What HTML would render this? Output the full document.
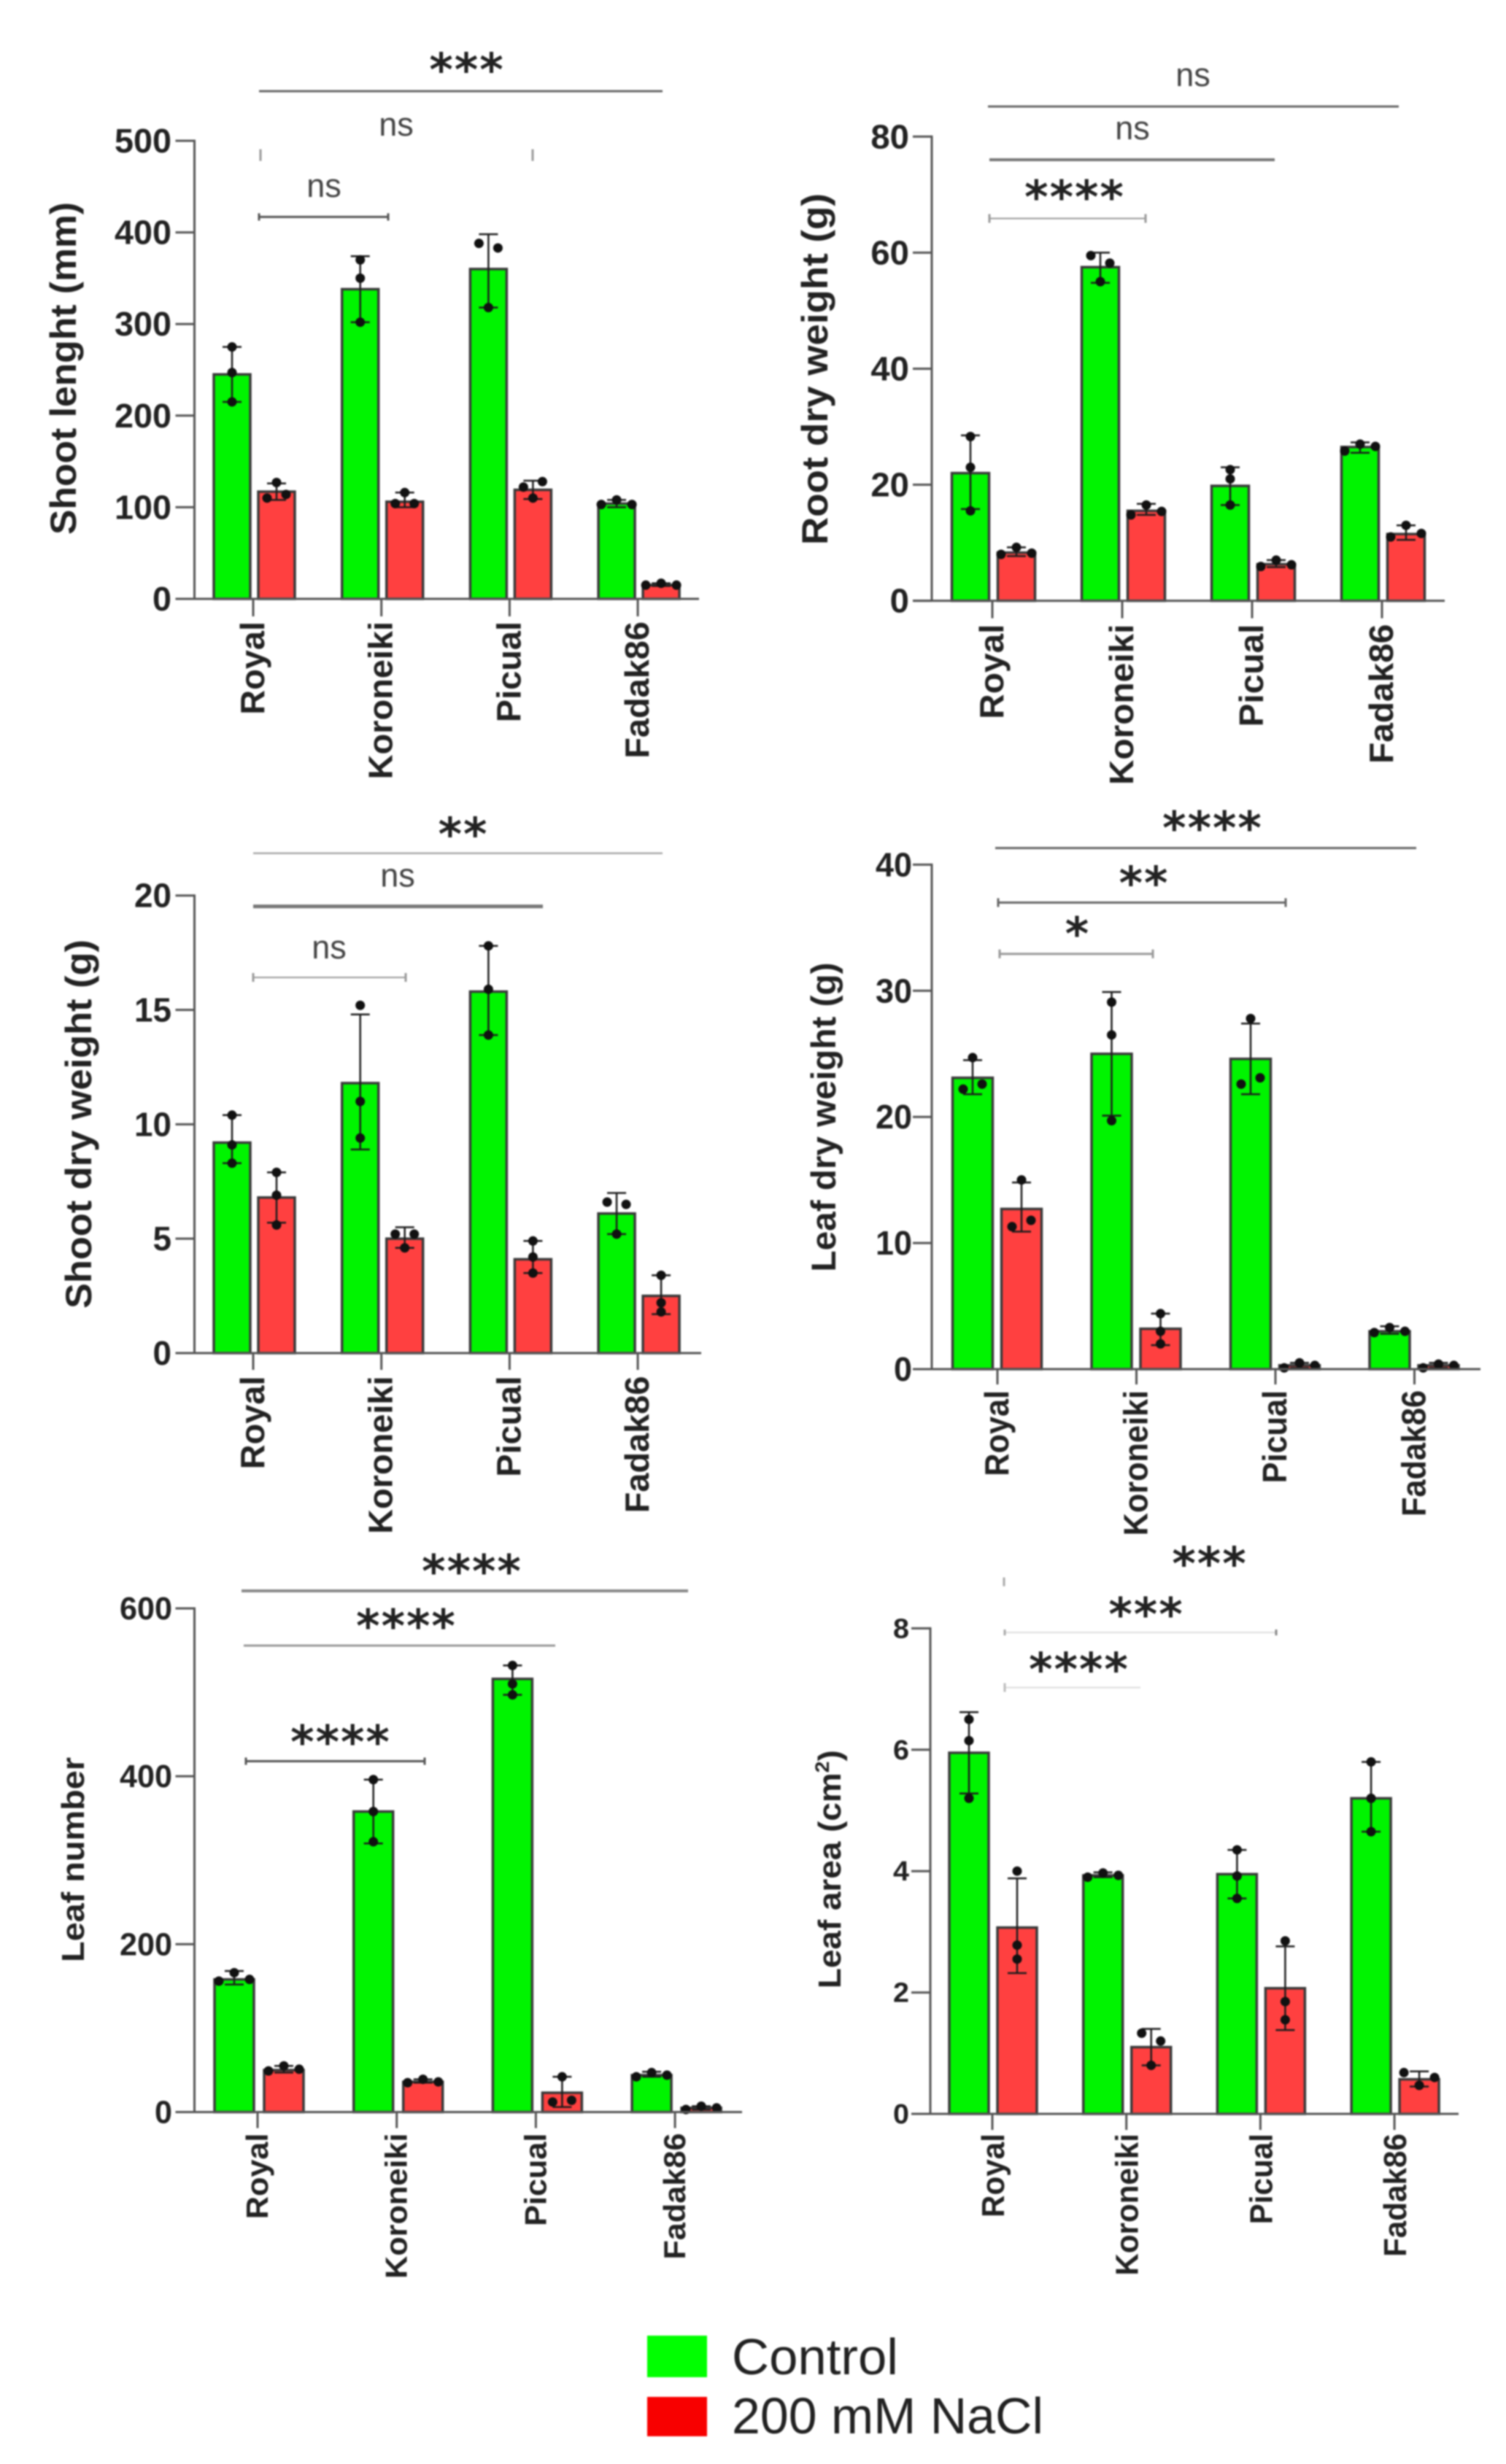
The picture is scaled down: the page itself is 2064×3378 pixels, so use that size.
<!DOCTYPE html>
<html lang="en">
<head>
<meta charset="utf-8">
<title>Olive cultivars under salt stress</title>
<style>
html,body{margin:0;padding:0;background:#fff;}
#figure{display:block;width:2064px;height:3378px;filter:blur(1px);font-family:"Liberation Sans",Arial,sans-serif;}
</style>
</head>
<body>
<svg id="figure" xmlns="http://www.w3.org/2000/svg" width="2064" height="3378" viewBox="0 0 2064 3378">
  <rect x="0" y="0" width="2064" height="3378" fill="#fff"/>
  <g id="charts"></g>
  <g>
    <rect x="887" y="3202" width="82" height="57" fill="#00ff00"/>
    <text x="1003" y="3255" font-size="70" fill="#222" textLength="228" lengthAdjust="spacingAndGlyphs">Control</text>
    <rect x="887" y="3286" width="82" height="54" fill="#f80000"/>
    <text x="1003" y="3336" font-size="70" fill="#222" textLength="427" lengthAdjust="spacingAndGlyphs">200 mM NaCl</text>
  </g>
</svg>
<script>
const categories = ['Royal', 'Koroneiki', 'Picual', 'Fadak86'];

/* Shoot length */
const shootLengthTicks = [0, 100, 200, 300, 400, 500];
const shootLengthControlMean = [245, 338, 360, 104];
const shootLengthControlLow = [215, 302, 318, 100];
const shootLengthControlHigh = [275, 374, 398, 108];
const shootLengthNaClMean = [117, 106, 119, 15];
const shootLengthNaClLow = [108, 100, 109, 14];
const shootLengthNaClHigh = [126, 116, 129, 17];
const shootLengthControlPoints = [[275, 247, 215], [370, 350, 302], [388, 383, 318], [103, 108, 103]];
const shootLengthNaClPoints = [[110, 127, 114], [104, 116, 104], [122, 128, 110], [15, 17, 15]];

/* Root dry weight */
const rootWeightTicks = [0, 20, 40, 60, 80];
const rootWeightControlMean = [22, 57.5, 19.8, 26.5];
const rootWeightControlLow = [15.8, 54.8, 16.5, 25.5];
const rootWeightControlHigh = [28.5, 60, 23, 27.3];
const rootWeightNaClMean = [8.3, 15.5, 6.3, 11.5];
const rootWeightNaClLow = [7.7, 14.8, 5.8, 10.5];
const rootWeightNaClHigh = [9.2, 16.7, 7, 13];
const rootWeightControlPoints = [[28.3, 23, 15.5], [59.5, 58.2, 55], [22.6, 21, 16.5], [25.8, 27, 26.6]];
const rootWeightNaClPoints = [[8, 9.2, 8.2], [14.8, 16.5, 15.4], [5.9, 7, 6.2], [11, 13, 11.6]];

/* Shoot dry weight */
const shootWeightTicks = [0, 5, 10, 15, 20];
const shootWeightControlMean = [9.2, 11.8, 15.8, 6.1];
const shootWeightControlLow = [8.3, 8.9, 13.9, 5.2];
const shootWeightControlHigh = [10.4, 14.8, 17.8, 7];
const shootWeightNaClMean = [6.8, 5, 4.1, 2.5];
const shootWeightNaClLow = [5.7, 4.6, 3.5, 1.7];
const shootWeightNaClHigh = [7.9, 5.5, 4.9, 3.4];
const shootWeightControlPoints = [[10.4, 9.1, 8.3], [15.2, 11, 9.4], [17.8, 15.9, 13.9], [6.6, 6.5, 5.2]];
const shootWeightNaClPoints = [[7.9, 6.9, 5.6], [5.2, 5.2, 4.6], [4.9, 4.2, 3.5], [3.4, 2.2, 1.8]];

/* Leaf dry weight */
const leafWeightTicks = [0, 10, 20, 30, 40];
const leafWeightControlMean = [23.1, 25, 24.6, 3];
const leafWeightControlLow = [21.8, 20.1, 21.8, 2.8];
const leafWeightControlHigh = [24.5, 29.9, 27.4, 3.4];
const leafWeightNaClMean = [12.7, 3.2, 0.3, 0.3];
const leafWeightNaClLow = [10.9, 1.9, 0.1, 0.1];
const leafWeightNaClHigh = [14.8, 4.4, 0.5, 0.5];
const leafWeightControlPoints = [[24.7, 22.2, 22.6], [29.1, 26.5, 19.7], [27.8, 22.6, 23.1], [2.9, 3.3, 3]];
const leafWeightNaClPoints = [[15, 11.3, 11.8], [4.4, 3, 2], [0.1, 0.5, 0.3], [0.1, 0.4, 0.3]];

/* Leaf number */
const leafNumberTicks = [0, 200, 400, 600];
const leafNumberControlMean = [158, 358, 516, 44];
const leafNumberControlLow = [152, 320, 497, 42];
const leafNumberControlHigh = [168, 396, 532, 48];
const leafNumberNaClMean = [50, 36, 23, 5];
const leafNumberNaClLow = [47, 35, 6, 3];
const leafNumberNaClHigh = [55, 39, 42, 7];
const leafNumberControlPoints = [[156, 166, 158], [396, 358, 322], [532, 510, 497], [42, 47, 44]];
const leafNumberNaClPoints = [[49, 55, 51], [35, 39, 36], [12, 42, 14], [3, 7, 5]];

/* Leaf area */
const leafAreaTicks = [0, 2, 4, 6, 8];
const leafAreaControlMean = [5.95, 3.93, 3.95, 5.2];
const leafAreaControlLow = [5.28, 3.9, 3.55, 4.65];
const leafAreaControlHigh = [6.62, 3.98, 4.35, 5.8];
const leafAreaNaClMean = [3.07, 1.1, 2.07, 0.57];
const leafAreaNaClLow = [2.32, 0.8, 1.38, 0.45];
const leafAreaNaClHigh = [3.88, 1.4, 2.76, 0.7];
const leafAreaControlPoints = [[6.5, 6.15, 5.2], [3.9, 3.97, 3.93], [3.92, 4.35, 3.55], [5.8, 5.2, 4.65]];
const leafAreaNaClPoints = [[4, 2.78, 2.55], [1.33, 1.2, 0.8], [2.85, 1.85, 1.55], [0.68, 0.47, 0.6]];

const panels = [
  {
    name: 'shoot-length', title: 'Shoot lenght (mm)', ticks: shootLengthTicks,
    cMean: shootLengthControlMean, cLow: shootLengthControlLow, cHigh: shootLengthControlHigh, cPts: shootLengthControlPoints,
    nMean: shootLengthNaClMean, nLow: shootLengthNaClLow, nHigh: shootLengthNaClHigh, nPts: shootLengthNaClPoints,
    axisX: 266.5, y0: 821, yTop: 193, xEnd: 958, tick0: 347, step: 175.7, dC: -29, dN: 32, barW: 50,
    xTick: 24, labelTop: 31, labelBase: 15, labelSize: 46, labelScale: 1.02,
    tickRight: 235, tickSize: 46, digitW: 26, tickBase: 16,
    titleX: 104, titleY: 505, titleLen: 456, titleSize: 50,
    lines: [[355, 908, 125, 3, '#666', 0], [357, 357, 212.6, 3, '#999', 8], [730, 730, 212.6, 3, '#999', 8], [355, 532, 297.4, 3, '#555', 5]],
    marks: [['***', 640, 87.7, 's'], ['ns', 543, 186, 'n'], ['ns', 444, 270, 'n']]
  },
  {
    name: 'root-dry-weight', title: 'Root dry weight (g)', ticks: rootWeightTicks,
    cMean: rootWeightControlMean, cLow: rootWeightControlLow, cHigh: rootWeightControlHigh, cPts: rootWeightControlPoints,
    nMean: rootWeightNaClMean, nLow: rootWeightNaClLow, nHigh: rootWeightNaClHigh, nPts: rootWeightNaClPoints,
    axisX: 1277, y0: 823.6, yTop: 187.3, xEnd: 1980, tick0: 1360, step: 178, dC: -30, dN: 33, barW: 51,
    xTick: 24, labelTop: 32, labelBase: 15, labelSize: 46, labelScale: 1.04,
    tickRight: 1246, tickSize: 46, digitW: 26.3, tickBase: 16,
    titleX: 1134, titleY: 506, titleLen: 482, titleSize: 50,
    lines: [[1354, 1917, 146, 3, '#666', 0], [1356, 1747, 219, 4, '#777', 0], [1356, 1570, 299.5, 2, '#999', 6]],
    marks: [['ns', 1635, 118, 'n'], ['ns', 1552, 191, 'n'], ['****', 1473, 262, 's']]
  },
  {
    name: 'shoot-dry-weight', title: 'Shoot dry weight (g)', ticks: shootWeightTicks,
    cMean: shootWeightControlMean, cLow: shootWeightControlLow, cHigh: shootWeightControlHigh, cPts: shootWeightControlPoints,
    nMean: shootWeightNaClMean, nLow: shootWeightNaClLow, nHigh: shootWeightNaClHigh, nPts: shootWeightNaClPoints,
    axisX: 266.5, y0: 1855, yTop: 1227.7, xEnd: 961, tick0: 347, step: 175.7, dC: -29, dN: 32, barW: 50,
    xTick: 23, labelTop: 31.5, labelBase: 15, labelSize: 46, labelScale: 1.02,
    tickRight: 235, tickSize: 46, digitW: 25.5, tickBase: 16,
    titleX: 125, titleY: 1541, titleLen: 506, titleSize: 50,
    lines: [[347, 908, 1169.8, 2.5, '#aaa', 0], [347, 744, 1242.6, 5, '#777', 0], [347, 556, 1340, 2, '#999', 6]],
    marks: [['**', 635, 1135.3, 's'], ['ns', 545, 1215.3, 'n'], ['ns', 451, 1314, 'n']]
  },
  {
    name: 'leaf-dry-weight', title: 'Leaf dry weight (g)', ticks: leafWeightTicks,
    cMean: leafWeightControlMean, cLow: leafWeightControlLow, cHigh: leafWeightControlHigh, cPts: leafWeightControlPoints,
    nMean: leafWeightNaClMean, nLow: leafWeightNaClLow, nHigh: leafWeightNaClHigh, nPts: leafWeightNaClPoints,
    axisX: 1277, y0: 1877, yTop: 1185.4, xEnd: 2029, tick0: 1367, step: 190.5, dC: -34, dN: 33, barW: 55,
    xTick: 21, labelTop: 29, labelBase: 15, labelSize: 46, labelScale: 0.94,
    tickRight: 1250, tickSize: 46, digitW: 25, tickBase: 16,
    titleX: 1145, titleY: 1531.5, titleLen: 424, titleSize: 47,
    lines: [[1364, 1941, 1162.6, 3, '#666', 0], [1368, 1762, 1237.4, 3, '#666', 6], [1370, 1580, 1307.7, 3, '#999', 6]],
    marks: [['****', 1662, 1126.8, 's'], ['**', 1568, 1202.3, 's'], ['*', 1477, 1272, 's']]
  },
  {
    name: 'leaf-number', title: 'Leaf number', ticks: leafNumberTicks,
    cMean: leafNumberControlMean, cLow: leafNumberControlLow, cHigh: leafNumberControlHigh, cPts: leafNumberControlPoints,
    nMean: leafNumberNaClMean, nLow: leafNumberNaClLow, nHigh: leafNumberNaClHigh, nPts: leafNumberNaClPoints,
    axisX: 266.5, y0: 2895.5, yTop: 2205, xEnd: 1017, tick0: 353, step: 190.7, dC: -32, dN: 36, barW: 54,
    xTick: 22, labelTop: 29, labelBase: 14, labelSize: 42, labelScale: 1.03,
    tickRight: 236, tickSize: 44, digitW: 24, tickBase: 15,
    titleX: 115, titleY: 2549.5, titleLen: 281, titleSize: 44,
    lines: [[331, 943, 2181, 4, '#888', 0], [334, 761, 2256, 3, '#999', 0], [337, 582, 2414.5, 3, '#555', 5]],
    marks: [['****', 647, 2146, 's'], ['****', 557, 2221, 's'], ['****', 467, 2380, 's']]
  },
  {
    name: 'leaf-area', title: 'Leaf area (cm2)', ticks: leafAreaTicks,
    cMean: leafAreaControlMean, cLow: leafAreaControlLow, cHigh: leafAreaControlHigh, cPts: leafAreaControlPoints,
    nMean: leafAreaNaClMean, nLow: leafAreaNaClLow, nHigh: leafAreaNaClHigh, nPts: leafAreaNaClPoints,
    axisX: 1275, y0: 2898, yTop: 2232.4, xEnd: 1999, tick0: 1360, step: 183.7, dC: -32, dN: 34, barW: 54,
    xTick: 22, labelTop: 27, labelBase: 16, labelSize: 44, labelScale: 0.96,
    tickRight: 1246, tickSize: 38, digitW: 22, tickBase: 13,
    titleX: 1152, titleY: 2562.7, titleLen: 327, titleSize: 44,
    lines: [[1376, 1376, 2168.6, 3, '#aaa', 6], [1377, 1749, 2238, 2, '#ddd', 0], [1377, 1377, 2238, 3, '#aaa', 4], [1749, 1749, 2238, 3, '#888', 4], [1377, 1563, 2313.5, 2, '#ddd', 0], [1377, 1377, 2313.5, 3, '#bbb', 6]],
    marks: [['***', 1658, 2135.5, 's'], ['***', 1571, 2205, 's'], ['****', 1479, 2280.4, 's']]
  }
];

const SVG_NS = 'http://www.w3.org/2000/svg';
const AXIS = '#555';
const INK = '#1c1c1c';

function make(parent, tag, attrs, text) {
  const el = document.createElementNS(SVG_NS, tag);
  for (const key in attrs) el.setAttribute(key, attrs[key]);
  if (text !== undefined) el.textContent = text;
  parent.appendChild(el);
  return el;
}

/* Spread points that would overlap, in data order, the way a swarm plot does. */
function swarmOffsets(values, yScale) {
  const order = values.map((v, i) => i).sort((a, b) => yScale(values[a]) - yScale(values[b]));
  const offsets = values.map(() => 0);
  let cluster = [];
  const flush = () => {
    const sorted = cluster.slice().sort((a, b) => a - b);
    sorted.forEach((idx, k) => { offsets[idx] = (k - (sorted.length - 1) / 2) * (sorted.length === 2 ? 26 : 21); });
    cluster = [];
  };
  order.forEach(idx => {
    if (cluster.length && yScale(values[idx]) - yScale(values[cluster[cluster.length - 1]]) > 12) flush();
    cluster.push(idx);
  });
  flush();
  return offsets;
}

function drawSeries(g, p, seriesName, fill, offset, mean, low, high, pts, yScale) {
  const bandX = i => p.tick0 + i * p.step + offset;
  mean.forEach((value, i) => {
    const cx = bandX(i);
    const bar = make(g, 'rect', { x: cx - p.barW / 2, y: yScale(value), width: p.barW, height: p.y0 - yScale(value), fill: fill, stroke: '#3a3a3a', 'stroke-width': 3.5 });
    
    
  });
  mean.forEach((value, i) => {
    const cx = bandX(i);
    const whisker = make(g, 'line', { x1: cx, x2: cx, y1: yScale(low[i]), y2: yScale(high[i]), stroke: INK, 'stroke-width': 2.5 });
    
    
    [low[i], high[i]].forEach(capValue => {
      const cap = make(g, 'line', { x1: cx - 13, x2: cx + 13, y1: yScale(capValue), y2: yScale(capValue), stroke: INK, 'stroke-width': 2.5 });
      
      
    });
    const offsets = swarmOffsets(pts[i], yScale);
    pts[i].forEach((pv, k) => {
      const dot = make(g, 'circle', { cx: cx + offsets[k], cy: yScale(pv), r: 6.5, fill: '#111' });
      
      
    });
  });
}

function drawPanel(p) {
  const root = document.getElementById('charts');
  const g = make(root, 'g', {});
  
  

  const yMax = p.ticks[p.ticks.length - 1];
  const yScale = v => p.y0 - (v / yMax) * (p.y0 - p.yTop);

  drawSeries(g, p, 'control', '#00f400', p.dC, p.cMean, p.cLow, p.cHigh, p.cPts, yScale);
  drawSeries(g, p, 'nacl', '#ff4040', p.dN, p.nMean, p.nLow, p.nHigh, p.nPts, yScale);

  const yAxis = make(g, 'line', { x1: p.axisX, x2: p.axisX, y1: p.yTop - 1.5, y2: p.y0, stroke: AXIS, 'stroke-width': 3 });
  
  
  const xAxis = make(g, 'line', { x1: p.axisX - 26, x2: p.xEnd, y1: p.y0, y2: p.y0, stroke: AXIS, 'stroke-width': 3 });
  
  

  p.ticks.forEach(t => {
    const mark = make(g, 'line', { x1: p.axisX - 26, x2: p.axisX, y1: yScale(t), y2: yScale(t), stroke: AXIS, 'stroke-width': 3 });
    
    
    const str = String(t);
    const label = make(g, 'text', { x: p.tickRight, y: yScale(t) + p.tickBase, 'text-anchor': 'end', 'font-size': p.tickSize, 'font-weight': 'bold', fill: '#222', textLength: p.digitW * str.length, lengthAdjust: 'spacingAndGlyphs' }, str);
    
    
  });

  categories.forEach((cat, i) => {
    const tx = p.tick0 + i * p.step;
    const mark = make(g, 'line', { x1: tx, x2: tx, y1: p.y0, y2: p.y0 + p.xTick, stroke: AXIS, 'stroke-width': 3 });
    
    
    const label = make(g, 'text', { transform: 'translate(' + (tx + p.labelBase) + ',' + (p.y0 + p.labelTop) + ') rotate(-90) scale(' + p.labelScale + ',1)', 'text-anchor': 'end', 'font-size': p.labelSize, 'font-weight': 'bold', fill: '#222' }, cat);
    
    
  });

  const titleAttrs = { transform: 'translate(' + p.titleX + ',' + p.titleY + ') rotate(-90)', 'text-anchor': 'middle', 'font-size': p.titleSize, 'font-weight': 'bold', fill: '#222', textLength: p.titleLen, lengthAdjust: 'spacingAndGlyphs' };
  let title;
  if (p.title.endsWith('2)')) {
    title = make(g, 'text', titleAttrs, p.title.slice(0, -2));
    make(title, 'tspan', { dy: -16, 'font-size': p.titleSize * 0.62 }, '2');
    make(title, 'tspan', { dy: 16 }, ')');
  } else {
    title = make(g, 'text', titleAttrs, p.title);
  }
  
  

  p.lines.forEach(l => {
    if (l[0] !== l[1]) {
      const bracket = make(g, 'line', { x1: l[0], x2: l[1], y1: l[2], y2: l[2], stroke: l[4], 'stroke-width': l[3] });
      
      
    }
    if (l[5] > 0) {
      const ends = l[0] === l[1] ? [l[0]] : [l[0], l[1]];
      ends.forEach(ex => {
        const cap = make(g, 'line', { x1: ex, x2: ex, y1: l[2] - l[5], y2: l[2] + l[5], stroke: l[4], 'stroke-width': 3 });
        
        
      });
    }
  });

  p.marks.forEach(m => {
    let mark;
    if (m[3] === 's') {
      mark = make(g, 'text', { x: m[1], y: m[2] + 30, 'text-anchor': 'middle', 'font-size': 62, 'font-weight': 'bold', 'letter-spacing': 2, fill: '#222', 'font-family': '"DejaVu Sans",sans-serif' }, m[0]);
    } else {
      mark = make(g, 'text', { x: m[1], y: m[2], 'text-anchor': 'middle', 'font-size': 45, fill: '#444' }, m[0]);
    }
    
    
  });
}

panels.forEach(drawPanel);
</script>
</body>
</html>
